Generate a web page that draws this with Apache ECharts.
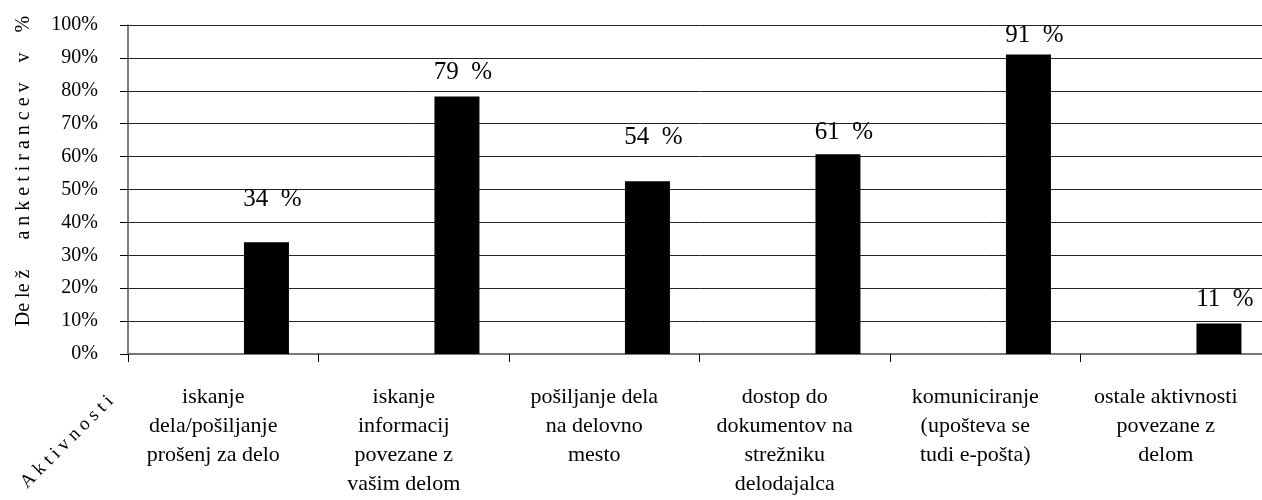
<!DOCTYPE html>
<html>
<head>
<meta charset="utf-8">
<script src="https://cdn.jsdelivr.net/npm/echarts@6/dist/echarts.min.js"></script>
<style>
html,body{margin:0;padding:0;background:#fff;overflow:hidden;width:1262px;height:500px;}
#chart{width:1290px;height:500px;}
</style>
</head>
<body>
<div id="chart"></div>
<script>
const categories = [
  'iskanje\ndela/pošiljanje\nprošenj za delo',
  'iskanje\ninformacij\npovezane z\nvašim delom',
  'pošiljanje dela\nna delovno\nmesto',
  'dostop do\ndokumentov na\nstrežniku\ndelodajalca',
  'komuniciranje\n(upošteva se\ntudi e-pošta)',
  'ostale aktivnosti\npovezane z\ndelom'
];
const values = [34, 78.3, 52.5, 60.7, 91, 9.3];
const valueLabels = ['34  %', '79  %', '54  %', '61  %', '91  %', '11  %'];
const yTicks = [0, 10, 20, 30, 40, 50, 60, 70, 80, 90, 100];
const yAxisTitle = 'De le ž      a n k e t i r a n c e v    v    %';
const xAxisTitle = 'A k t i v n o s t i';

// label lift above bar tops (style)
const labelDistance = [30, 11, 31, 9, 7, 11];

const FONT = '"Liberation Serif", "DejaVu Serif", serif';
const chart = echarts.init(document.getElementById('chart'));

chart.setOption({
  animation: false,
  backgroundColor: '#fff',
  grid: { left: 128, top: 25, width: 1143, bottom: 146, containLabel: false },
  xAxis: {
    type: 'category',
    data: categories,
    boundaryGap: true,
    axisLine: { show: true, lineStyle: { color: '#777', width: 2 } },
    axisTick: { show: true, length: 8, lineStyle: { color: '#000' } },
    axisLabel: {
      interval: 0, margin: 29, color: '#000',
      fontFamily: FONT, fontSize: 22, lineHeight: 29, align: 'center',
      padding: [0, 20, 0, 0]
    },
    splitLine: { show: false }
  },
  yAxis: {
    type: 'value',
    min: 0, max: 100, interval: 10,
    axisLine: { show: true, lineStyle: { color: '#555', width: 1.5 } },
    axisTick: { show: true, inside: false, length: 8, lineStyle: { color: '#000' } },
    axisLabel: {
      margin: 30, color: '#000', fontFamily: FONT, fontSize: 20,
      formatter: v => (yTicks.indexOf(v) >= 0 ? v + '%' : '')
    },
    splitLine: { show: true, lineStyle: { color: '#222', width: 1 } }
  },
  series: [
    {
      type: 'bar',
      data: categories.map(() => null),
      barWidth: 45,
      barGap: '92%',
      itemStyle: { color: '#000' }
    },
    {
      type: 'bar',
      data: values.map((v, i) => ({
        value: v,
        label: { distance: labelDistance[i] }
      })),
      barWidth: 45,
      barGap: '92%',
      itemStyle: { color: '#000' },
      label: {
        show: true,
        position: 'top',
        color: '#000',
        fontFamily: FONT,
        fontSize: 25,
        offset: [6, 0],
        formatter: p => valueLabels[p.dataIndex]
      }
    }
  ],
  graphic: [
    {
      type: 'text',
      x: 24, y: 171,
      rotation: Math.PI / 2,
      style: {
        text: yAxisTitle,
        fill: '#000',
        font: '20px ' + FONT,
        align: 'center',
        verticalAlign: 'middle'
      }
    },
    {
      type: 'text',
      x: 67, y: 442,
      rotation: Math.PI / 4,
      style: {
        text: xAxisTitle,
        fill: '#000',
        font: '19px ' + FONT,
        align: 'center',
        verticalAlign: 'middle'
      }
    }
  ]
});
</script>
</body>
</html>
